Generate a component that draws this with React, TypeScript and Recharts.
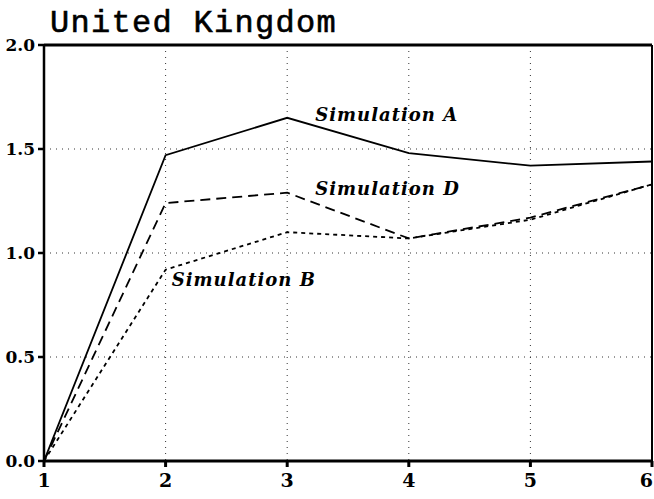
import React from 'react'
import {
  LineChart,
  Line,
  XAxis,
  YAxis,
  CartesianGrid,
  ReferenceLine,
  ReferenceDot,
} from 'recharts'

// period index on the x axis
const periods = [1, 2, 3, 4, 5, 6]

// values
const simA = [0, 1.47, 1.65, 1.48, 1.42, 1.44]
const simD = [0, 1.24, 1.29, 1.07, 1.17, 1.33]
const simB = [0, 0.92, 1.1, 1.07, 1.16, 1.33]

const yTicks = [0, 0.5, 1, 1.5, 2]

// in-plot series labels, anchored in data units (text start, baseline)
const annotations = [
  { text: 'Simulation A', x: 3.23, y: 1.635 },
  { text: 'Simulation D', x: 3.23, y: 1.28 },
  { text: 'Simulation B', x: 2.05, y: 0.84 },
]

const data = periods.map((p, i) => ({ period: p, a: simA[i], d: simD[i], b: simB[i] }))

const yTickFont = { fill: '#000', fontSize: 17, fontWeight: 700, fontFamily: 'DejaVu Serif' }

// last x label sits on the right edge, so pull it inside the page
const XTick = (props: any) => {
  const { x, y, payload } = props
  const last = payload.value === periods[periods.length - 1]
  return (
    <text
      x={last ? x + 3 : x}
      y={y + 16}
      textAnchor={last ? 'end' : 'middle'}
      fill="#000"
      fontSize={19}
      fontWeight={700}
      fontFamily="DejaVu Serif"
    >
      {payload.value}
    </text>
  )
}

export default function App() {
  return (
    <div style={{ position: 'absolute', left: 0, top: 0, width: 654, height: 499, background: '#fff' }}>
      <svg width={654} height={44} style={{ position: 'absolute', left: 0, top: 0 }}>
        <text
          x={50}
          y={32}
          fontFamily="Liberation Mono"
          fontSize={32}
          letterSpacing={1.3}
          fill="#000"
          stroke="#000"
          strokeWidth={0.6}
        >
          United Kingdom
        </text>
      </svg>
      <LineChart
        width={654}
        height={499}
        data={data}
        margin={{ top: 45, right: 2, bottom: 0, left: 0 }}
      >
        <CartesianGrid stroke="#333" strokeDasharray="1 5" />
        <XAxis
          dataKey="period"
          type="number"
          domain={[1, 6]}
          ticks={periods}
          height={38}
          stroke="#000"
          strokeWidth={3}
          tickSize={6}
          tick={<XTick />}
          tickMargin={4}
          allowDataOverflow
        />
        <YAxis
          type="number"
          domain={[0, 2]}
          ticks={yTicks}
          width={44}
          stroke="#000"
          strokeWidth={2.5}
          tickSize={6}
          tickMargin={3}
          tick={yTickFont}
          tickFormatter={(v: number) => v.toFixed(1)}
        />
        <ReferenceLine y={2} stroke="#000" strokeWidth={3} />
        <ReferenceLine x={6} stroke="#000" strokeWidth={2} />
        <Line dataKey="a" stroke="#000" strokeWidth={1.8} dot={false} isAnimationActive={false} />
        <Line dataKey="d" stroke="#000" strokeWidth={1.8} strokeDasharray="10 6" dot={false} isAnimationActive={false} />
        <Line dataKey="b" stroke="#000" strokeWidth={1.8} strokeDasharray="4 4" dot={false} isAnimationActive={false} />
        {annotations.map(a => (
          <ReferenceDot
            key={a.text}
            x={a.x}
            y={a.y}
            r={0}
            shape={(p: any) => (
              <text
                x={p.cx}
                y={p.cy}
                fontFamily="DejaVu Serif"
                fontStyle="italic"
                fontWeight={700}
                fontSize={18}
                letterSpacing={1}
                fill="#000"
              >
                {a.text}
              </text>
            )}
          />
        ))}
      </LineChart>
    </div>
  )
}
